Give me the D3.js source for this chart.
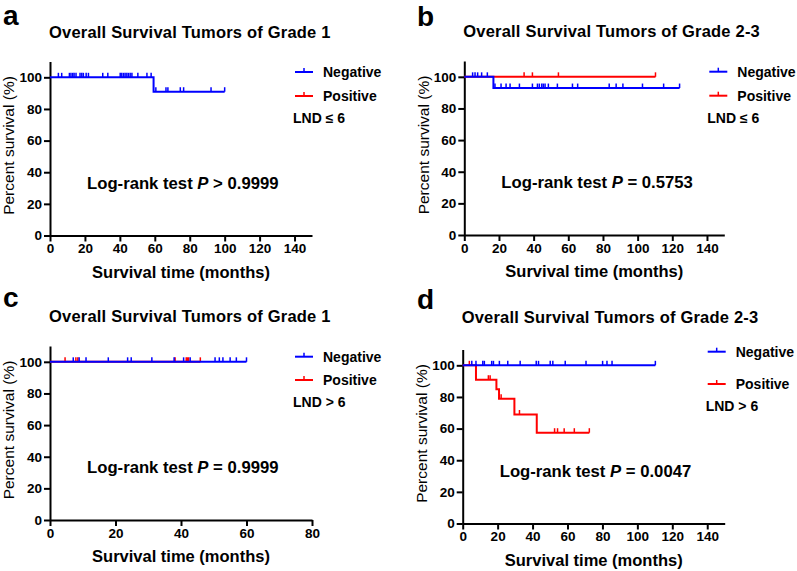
<!DOCTYPE html>
<html>
<head>
<meta charset="utf-8">
<script src="https://cdn.jsdelivr.net/npm/d3@7"></script>
<style>
  body { margin: 0; background: #fff; }
  svg { font-family: "Liberation Sans", Arial, sans-serif; }
  .axis path, .axis line { stroke: #000; stroke-width: 2; }
  .axis text { font-size: 13.5px; font-weight: bold; fill: #000; }
</style>
</head>
<body>
<div id="chart"></div>
<script>
// ---- data ----
var seriesNames = ["Negative", "Positive"];

// panel a : grade 1, LND <= 6
var aNegTime = [0, 59.3];
var aNegSurv = [100, 90.9];
var aNegEnd = 100;
var aNegCensor = [4.8, 6.7, 11.1, 12, 13, 13.8, 14.9, 17.2, 18.2, 19.1, 20.7, 22, 30.2, 33.1,
  40.2, 41.1, 42.1, 43, 44, 44.9, 45.9, 46.9, 50.3, 55.5, 57.9, 60.6, 66.4, 67.5, 74.6, 76.5, 92.2, 100];

// panel b : grade 2-3, LND <= 6
var bNegTime = [0, 16.8];
var bNegSurv = [100, 92.9];
var bNegEnd = 124.2;
var bNegCensor = [4.8, 6.2, 7.7, 10, 13.3, 17.7, 21.2, 24.1, 26.4, 31.8, 39.3, 42.2, 43.3, 44.7,
  45.6, 46.6, 48.5, 53.7, 62.4, 65.4, 83.6, 87.6, 91.5, 102.8, 115, 124.2];
var bPosTime = [0];
var bPosSurv = [100];
var bPosEnd = 110.3;
var bPosCensor = [34.5, 39.3, 54.3, 110.3];

// panel c : grade 1, LND > 6
var cNegTime = [0];
var cNegSurv = [100];
var cNegEnd = 60;
var cNegCensor = [7.1, 8.9, 11, 17.8, 23.7, 24.8, 31.1, 37.9, 40.8, 42.8, 50.4, 51.7, 52.8, 55, 56.9, 60];
var cPosTime = [0];
var cPosSurv = [100];
var cPosEnd = 45.9;
var cPosCensor = [4.6, 7.9, 8.5, 38.2, 41.6, 42, 42.3, 45.9];

// panel d : grade 2-3, LND > 6
var dNegTime = [0];
var dNegSurv = [100];
var dNegEnd = 110.3;
var dNegCensor = [5.2, 7.6, 11.5, 12.4, 16.6, 17.6, 21, 25.8, 32.9, 42.1, 43.4, 50.1, 51.6, 58.7,
  70.6, 80.1, 82.6, 85.5, 110.3];
var dPosTime = [0, 7.6, 19.3, 20.8, 29.6, 42.4];
var dPosSurv = [100, 90.9, 84.8, 78.8, 68.9, 57.4];
var dPosEnd = 72.5;
var dPosCensor = [3.8, 14.7, 15.7, 22, 32.5, 52.6, 54.3, 58.1, 63.9, 72.5];

var xTicksLong = [0, 20, 40, 60, 80, 100, 120, 140];
var xTicksShort = [0, 20, 40, 60, 80];
var yTicks = [0, 20, 40, 60, 80, 100];

var color = d3.scaleOrdinal().domain(seriesNames).range(["#0000ff", "#ff0000"]);

var svg = d3.select("#chart").append("svg")
    .attr("width", 797)
    .attr("height", 571);

function curve(time, surv, end) {
  return { time: time, surv: surv, end: end };
}

var panels = [
  { letter: "a", lx: 3, ly: 25, left: 50, top: 61.5, w: 262, h: 174, xmax: 150, xticks: xTicksLong,
    title: "Overall Survival Tumors of Grade 1", titleDy: -24, lnd: "LND \u2264 6",
    legY: [10.5, 34.5, 56.5], p: "> 0.9999",
    neg: curve(aNegTime, aNegSurv, aNegEnd), negC: aNegCensor, pos: null, posC: [] },
  { letter: "b", lx: 417, ly: 26, left: 464.3, top: 61, w: 260, h: 174, xmax: 150, xticks: xTicksLong,
    title: "Overall Survival Tumors of Grade 2-3", titleDy: -24, lnd: "LND \u2264 6",
    legY: [10.7, 34.7, 56.7], p: "= 0.5753",
    neg: curve(bNegTime, bNegSurv, bNegEnd), negC: bNegCensor,
    pos: curve(bPosTime, bPosSurv, bPosEnd), posC: bPosCensor },
  { letter: "c", lx: 3, ly: 307, left: 50, top: 346, w: 262, h: 174, xmax: 80, xticks: xTicksShort,
    title: "Overall Survival Tumors of Grade 1", titleDy: -24.3, lnd: "LND > 6",
    legY: [10.7, 34, 55.7], p: "= 0.9999",
    neg: curve(cNegTime, cNegSurv, cNegEnd), negC: cNegCensor,
    pos: curve(cPosTime, cPosSurv, cPosEnd), posC: cPosCensor },
  { letter: "d", lx: 417, ly: 309, left: 462.7, top: 349.5, w: 262, h: 174, xmax: 150, xticks: xTicksLong,
    title: "Overall Survival Tumors of Grade 2-3", titleDy: -27, lnd: "LND > 6",
    legY: [2.2, 34.5, 57], p: "= 0.0047",
    neg: curve(dNegTime, dNegSurv, dNegEnd), negC: dNegCensor,
    pos: curve(dPosTime, dPosSurv, dPosEnd), posC: dPosCensor }
];

function survAt(c, t) {
  var s = c.surv[0];
  for (var i = 0; i < c.time.length; i++) {
    if (c.time[i] <= t) s = c.surv[i];
  }
  return s;
}

function stepPath(c, x, y) {
  var d = "M" + x(c.time[0]) + "," + y(c.surv[0]);
  for (var i = 1; i < c.time.length; i++) {
    d += "H" + x(c.time[i]) + "V" + y(c.surv[i]);
  }
  d += "H" + x(c.end);
  return d;
}

panels.forEach(function(p) {
  svg.append("text")
      .attr("x", p.lx)
      .attr("y", p.ly)
      .style("font-size", "28px")
      .style("font-weight", "bold")
      .text(p.letter);

  var g = svg.append("g")
      .attr("transform", "translate(" + p.left + "," + p.top + ")");

  var x = d3.scaleLinear().domain([0, p.xmax]).range([0, p.w]);
  var y = d3.scaleLinear().domain([0, 110]).range([p.h, 0]);

  g.append("text")
      .attr("x", -1)
      .attr("y", p.titleDy)
      .style("font-size", "16.5px")
      .style("font-weight", "bold")
      .style("letter-spacing", "0.2px")
      .text(p.title);

  g.append("g")
      .attr("class", "axis")
      .attr("transform", "translate(0," + p.h + ")")
      .call(d3.axisBottom(x).tickValues(p.xticks).tickSize(6).tickSizeOuter(0).tickPadding(2));

  g.append("g")
      .attr("class", "axis")
      .call(d3.axisLeft(y).tickValues(yTicks).tickSize(6).tickSizeOuter(0).tickPadding(2));

  g.append("text")
      .attr("x", p.w / 2)
      .attr("y", p.h + 36.5)
      .attr("dy", ".35em")
      .style("text-anchor", "middle")
      .style("font-size", "16.5px")
      .style("font-weight", "bold")
      .text("Survival time (months)");

  g.append("text")
      .attr("transform", "translate(-41," + (p.h / 2 - 3) + ") rotate(-90)")
      .attr("dy", ".35em")
      .style("text-anchor", "middle")
      .style("font-size", "15.5px")
      .text("Percent survival (%)");

  // positive first, negative drawn on top
  var series = [];
  if (p.pos) series.push({ name: "Positive", c: p.pos, cens: p.posC });
  series.push({ name: "Negative", c: p.neg, cens: p.negC });

  series.forEach(function(s) {
    g.append("path")
        .attr("d", stepPath(s.c, x, y))
        .attr("fill", "none")
        .attr("stroke", color(s.name))
        .attr("stroke-width", 2);

    g.selectAll(null)
        .data(s.cens)
      .enter().append("line")
        .attr("x1", function(d) { return x(d); })
        .attr("x2", function(d) { return x(d); })
        .attr("y1", function(d) { return y(survAt(s.c, d)); })
        .attr("y2", function(d) { return y(survAt(s.c, d)) - 4.5; })
        .attr("stroke", color(s.name))
        .attr("stroke-width", 1.5);
  });

  g.append("text")
      .attr("x", 37)
      .attr("y", 121.5)
      .attr("dy", ".35em")
      .style("font-size", "16.7px")
      .style("font-weight", "bold")
      .html("Log-rank test <tspan font-style='italic'>P</tspan> " + p.p);

  var legend = g.selectAll(".legend")
      .data(seriesNames)
    .enter().append("g")
      .attr("class", "legend")
      .attr("transform", function(d, i) { return "translate(245," + p.legY[i] + ")"; });

  legend.append("line")
      .attr("x1", 0).attr("x2", 18)
      .attr("y1", 0).attr("y2", 0)
      .attr("stroke", color)
      .attr("stroke-width", 2);

  legend.append("line")
      .attr("x1", 9).attr("x2", 9)
      .attr("y1", 0).attr("y2", -4)
      .attr("stroke", color)
      .attr("stroke-width", 1.5);

  legend.append("text")
      .attr("x", 28)
      .attr("dy", ".35em")
      .style("font-size", "14px")
      .style("font-weight", "bold")
      .text(function(d) { return d; });

  g.append("text")
      .attr("x", 243)
      .attr("y", p.legY[2])
      .attr("dy", ".35em")
      .style("font-size", "14px")
      .style("font-weight", "bold")
      .text(p.lnd);
});
</script>
</body>
</html>
